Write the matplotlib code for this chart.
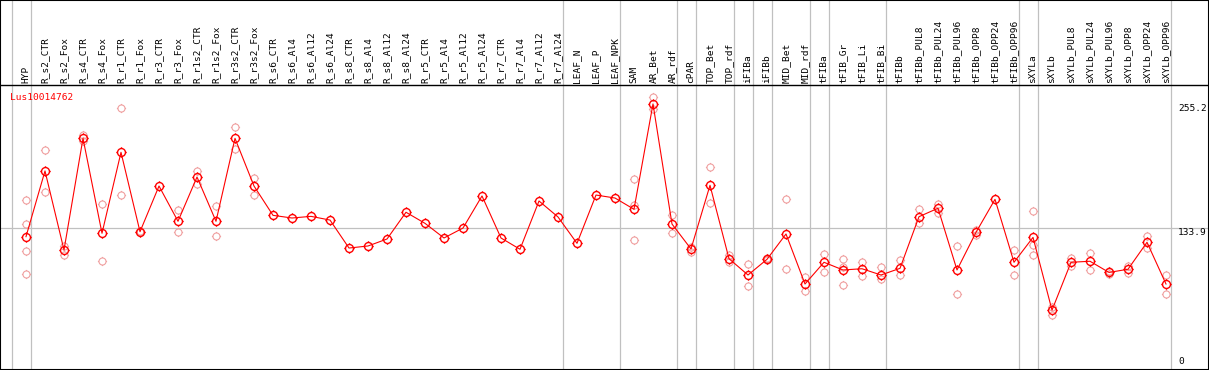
import matplotlib
matplotlib.use("Agg")
import matplotlib.pyplot as plt
from matplotlib.path import Path

# categorias del eje x
muestras = [
    "HYP", "R_s2_CTR", "R_s2_Fox", "R_s4_CTR", "R_s4_Fox", "R_r1_CTR", "R_r1_Fox",
    "R_r3_CTR", "R_r3_Fox", "R_r1s2_CTR", "R_r1s2_Fox", "R_r3s2_CTR", "R_r3s2_Fox",
    "R_s6_CTR", "R_s6_Al4", "R_s6_Al12", "R_s6_Al24", "R_s8_CTR", "R_s8_Al4",
    "R_s8_Al12", "R_s8_Al24", "R_r5_CTR", "R_r5_Al4", "R_r5_Al12", "R_r5_Al24",
    "R_r7_CTR", "R_r7_Al4", "R_r7_Al12", "R_r7_Al24", "LEAF_N", "LEAF_P", "LEAF_NPK",
    "SAM", "AR_Bet", "AR_rdf", "cPAR", "TOP_Bet", "TOP_rdf", "iFIBa", "iFIBb",
    "MID_Bet", "MID_rdf", "tFIBa", "tFIB_Gr", "tFIB_Li", "tFIB_Bi", "tFIBb",
    "tFIBb_PUL8", "tFIBb_PUL24", "tFIBb_PUL96", "tFIBb_OPP8", "tFIBb_OPP24",
    "tFIBb_OPP96", "sXYLa", "sXYLb", "sXYLb_PUL8", "sXYLb_PUL24", "sXYLb_PUL96",
    "sXYLb_OPP8", "sXYLb_OPP24", "sXYLb_OPP96",
]

# media de expresion por muestra
media = [
    125.7, 189.8, 112.7, 221.6, 129.0, 208.0, 130.5, 175.1, 140.7, 183.9, 140.7,
    221.6, 175.1, 146.5, 143.9, 145.5, 141.9, 114.6, 116.6, 123.4, 149.5, 138.7,
    124.4, 134.1, 165.4, 124.4, 113.4, 160.5, 144.9, 119.2, 166.3, 163.4, 152.4,
    255.2, 138.0, 113.7, 175.8, 104.2, 88.3, 103.6, 128.3, 79.5, 100.7, 93.2,
    94.4, 88.3, 94.8, 145.2, 153.4, 93.2, 129.9, 162.1, 100.7, 125.0, 54.0,
    100.7, 101.7, 90.8, 93.9, 120.2, 79.5,
]

# replicas visibles
replicas = [
    [161.5, 137.8, 111.7, 89.3], [210.0, 169.3], [116.9, 108.1], [224.9, 219.0],
    [157.3, 101.7], [250.9, 166.0], [131.0, 130.0], [], [151.7, 129.9],
    [189.8, 176.8], [155.3, 126.0], [232.7, 211.2], [182.6, 166.0],
    [], [], [], [], [], [], [], [], [], [], [], [], [], [], [], [], [], [], [],
    [182.0, 156.6, 122.4], [261.7, 250.2], [146.8, 129.6], [115.9, 111.0],
    [193.3, 158.2], [107.8, 101.3], [99.0, 77.6], [104.5, 102.5], [162.4, 93.9],
    [86.0, 72.7], [108.8, 90.9], [103.9, 95.8, 78.5], [101.0, 87.3], [95.8, 84.1],
    [102.9, 88.3], [152.4, 138.7], [157.6, 149.1], [116.6, 69.8], [132.2, 127.3],
    [], [112.7, 88.0], [150.7, 117.6, 107.8], [57.4, 49.3], [104.6, 97.1],
    [109.5, 92.9], [92.5, 89.3], [97.4, 90.0], [126.0, 115.0], [88.3, 69.8],
]

# separadores de grupo (despues del indice)
separadores = [-1, 0, 28, 31, 34, 35, 37, 38, 39, 41, 42, 45, 52, 53, 60]
marcas_y = [255.2, 133.9, 0]
gen = "Lus10014762"

W, H = 1209, 370
fig = plt.figure(figsize=(W / 100, H / 100), dpi=100)
ax = fig.add_axes([0, 0, 1, 1])

# escala: columna i en x = 26 + 19 i px ; valor v en y = 365.5 - 1.025 v px
ax.set_xlim(-26 / 19, (W - 26) / 19)
ax.set_ylim(-(H - 365.5) / 1.025, 365.5 / 1.025)
ax.set_xticks([])
ax.set_yticks([])
for s in ax.spines.values():
    s.set_linewidth(1.5)
    s.set_color("black")

y_cab = (365.5 - 85) / 1.025
ax.axhline(y_cab, color="black", lw=1.0)
ax.axhline(133.9, color="#c0c0c0", lw=0.9, zorder=0)
for s in separadores:
    ax.axvline(s + 0.25, color="#c0c0c0", lw=0.9, zorder=0)

# marcador: circulo con cuatro rayitas
circ = Path.unit_circle()
ticks = Path([(0, 1), (0, 1.3), (0, -1), (0, -1.3), (1, 0), (1.3, 0), (-1, 0), (-1.3, 0)],
             [Path.MOVETO, Path.LINETO] * 4)
marca = Path.make_compound_path(circ, ticks)

xs = list(range(len(muestras)))
for i, reps in enumerate(replicas):
    if reps:
        ax.plot([i] * len(reps), reps, linestyle="none", marker=marca, ms=6.6,
                mfc="none", mec="#f0a0a0", mew=0.8, zorder=2)

ax.plot(xs, media, color="red", lw=0.8, zorder=3)
ax.plot(xs, media, linestyle="none", marker=marca, ms=7.4, mfc="none",
        mec="red", mew=1.0, zorder=4)

fuente = "DejaVu Sans Mono"
y_lab = (365.5 - 83) / 1.025
for i, m in enumerate(muestras):
    ax.text(i, y_lab, m, rotation=90, ha="center", va="bottom",
            fontsize=6.8, family=fuente)

ax.text((10 - 26) / 19, (365.5 - 97) / 1.025, gen, color="red", ha="left",
        va="center", fontsize=6.8, family=fuente)

x_lab = (1178 - 26) / 19
for v in marcas_y:
    ax.text(x_lab, v, f"{v:g}" if v == 0 else f"{v:.1f}", ha="left",
            va="bottom" if v == 0 else "top", fontsize=6.8, family=fuente)

fig.savefig("out.png", dpi=100)
